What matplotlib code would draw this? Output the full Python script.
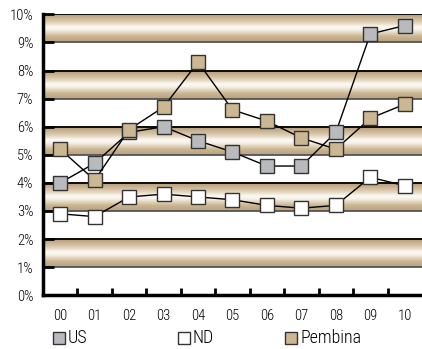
import matplotlib
matplotlib.use("Agg")
import matplotlib.pyplot as plt
import numpy as np
from matplotlib.colors import LinearSegmentedColormap
from matplotlib.lines import Line2D

plt.rcParams['font.family'] = ['Roboto Condensed', 'Liberation Sans', 'DejaVu Sans']
plt.rcParams['font.weight'] = 'light'

years = ["00", "01", "02", "03", "04", "05", "06", "07", "08", "09", "10"]
us = [4.0, 4.7, 5.8, 6.0, 5.5, 5.1, 4.6, 4.6, 5.8, 9.3, 9.6]
nd = [2.9, 2.8, 3.5, 3.6, 3.5, 3.4, 3.2, 3.1, 3.2, 4.2, 3.9]
pembina = [5.2, 4.1, 5.9, 6.7, 8.3, 6.6, 6.2, 5.6, 5.2, 6.3, 6.8]
ytick_labels = ["0%", "1%", "2%", "3%", "4%", "5%", "6%", "7%", "8%", "9%", "10%"]
series_names = ["US", "ND", "Pembina"]
bands = [(1, 2), (3, 4), (5, 6), (7, 8), (9, 10)]

W, H = 422, 349
fig = plt.figure(figsize=(W/100, H/100), dpi=100)
ax = fig.add_axes([43/W, 1-295.3/H, 379/W, 281/H])

x = np.arange(len(years))
ax.set_xlim(-0.5, len(years) - 0.5)
ax.set_ylim(0, 10)

cmap = LinearSegmentedColormap.from_list("band", [
    (0.0, "#b8a07a"), (0.2, "#cdb894"), (0.42, "#f6f1e8"), (0.52, "#fdfbf7"),
    (0.7, "#ddccb0"), (1.0, "#b09672")])
grad = np.linspace(0, 1, 64).reshape(-1, 1)
for lo, hi in bands:
    ax.imshow(grad, cmap=cmap, aspect='auto', extent=(-0.5, len(years) - 0.5, hi, lo),
              zorder=0, interpolation='bilinear')
    ax.axhline(hi, color='black', lw=1.3, zorder=1)
    ax.axhline(lo, color='#555555', lw=1.3, zorder=1)

colors = {"US": '#b9babd', "ND": 'white', "Pembina": '#cbb791'}
ms = 9.5
ax.plot(x, nd, color='black', lw=1, marker='s', ms=ms, mfc=colors["ND"], mec='#333333', mew=1, zorder=3)
ax.plot(x, us, color='black', lw=1, marker='s', ms=ms, mfc=colors["US"], mec='#333333', mew=1, zorder=3)
ax.plot(x, pembina, color='black', lw=1, marker='s', ms=ms, mfc=colors["Pembina"], mec='#333333', mew=1, zorder=4)

ax.set_yticks(range(0, 11))
ax.set_yticklabels(ytick_labels, fontsize=10.5)
ax.tick_params(axis='y', direction='in', length=8, width=2, pad=7)
ax.set_xticks(x)
ax.set_xticklabels(years, fontsize=10.5)
ax.tick_params(axis='x', length=0, pad=10)
ax.set_xticks(np.arange(0.5, len(years) - 1, 1), minor=True)
ax.tick_params(axis='x', which='minor', direction='in', length=5, width=2)

for s in ['top', 'right']:
    ax.spines[s].set_visible(False)
ax.spines['left'].set_linewidth(2.5)
ax.spines['bottom'].set_linewidth(2.5)

# legend entries placed manually
leg_x = [59, 184, 291]
leg_y = 338
for name, lx in zip(series_names, leg_x):
    fig.add_artist(Line2D([lx/W], [1-leg_y/H], transform=fig.transFigure, ls='none', marker='s',
                          ms=8, mfc=colors[name], mec='#333333', mew=1))
    fig.text((lx + 9)/W, 1-leg_y/H, name, fontsize=13, va='center', ha='left')

fig.savefig("out.png", dpi=100)
